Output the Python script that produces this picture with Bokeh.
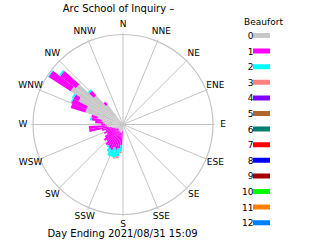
from bokeh.plotting import figure
from bokeh.models import Range1d, ColumnDataSource
from bokeh.embed import file_html
from bokeh.resources import INLINE
from bokeh.core.properties import value
import numpy as np

title_text = "Arc School of Inquiry \u2013"
footer_text = "Day Ending 2021/08/31 15:09"
legend_title = "Beaufort"
compass_labels = ["N", "NNE", "NE", "ENE", "E", "ESE", "SE", "SSE",
                  "S", "SSW", "SW", "WSW", "W", "WNW", "NW", "NNW"]
beaufort_labels = [str(i) for i in range(13)]
beaufort_colors = ["#c8c8c8", "#ff00ff", "#00ffff", "#ff8080", "#8000ff",
                   "#b06830", "#008070", "#ff0000", "#0000ff", "#a00000",
                   "#00ff00", "#ff8000", "#0080ff"]

# wind direction bins (degrees, clockwise from N) and frequency (%) per Beaufort
directions = [185, 190, 195, 200, 205, 210, 215, 220, 225, 230, 235, 240, 245, 250,
              255, 260, 265, 270, 275, 280, 285, 290, 295, 300, 305, 310, 315, 320]
bf0 = [0.7, 0.9, 0.9, 0.9, 0.9, 0.8, 0.8, 0.7, 0.7, 0.7, 0.8, 0.9, 1.0, 1.1,
       1.3, 1.6, 1.8, 2.0, 2.2, 2.4, 2.9, 4.4, 4.4, 5.6, 6.9, 6.6, 4.4, 2.8]
bf1 = [1.6, 1.8, 2.0, 1.8, 2.2, 2.2, 2.0, 2.2, 1.8, 2.0, 1.6, 1.1, 1.3, 0.9,
       1.1, 2.2, 2.0, 0.4, 0.9, 1.1, 0.7, 1.7, 1.8, 0.6, 2.9, 2.2, 0.7, 0.4]
bf2 = [0.7, 0.9, 0.9, 1.1, 0.7, 0.4, 0.2, 0.0, 0.0, 0.0, 0.0, 0.0, 0.0, 0.0,
       0.0, 0.0, 0.0, 0.0, 0.0, 0.2, 0.0, 0.0, 0.1, 0.2, 0.1, 0.2, 0.2, 0.0]
bf3 = [0.2, 0.2, 0.1, 0.0, 0.0, 0.0, 0.0, 0.0, 0.0, 0.0, 0.0, 0.0, 0.0, 0.0,
       0.0, 0.0, 0.0, 0.0, 0.0, 0.0, 0.0, 0.0, 0.0, 0.0, 0.0, 0.0, 0.0, 0.0]
max_pct = 10.0

W, H = 320, 240
CX, CY = 122.5, 124.0          # rose centre in pixels
S = 90.0 / max_pct             # pixels per percent
PETAL_W = 5.0                  # degrees

def dx(px):
    return (px - CX) / S

def dy(py):
    return (CY - py) / S

p = figure(width=W, height=H, output_backend="svg", toolbar_location=None,
           x_range=Range1d(dx(0), dx(W)), y_range=Range1d(dy(H), dy(0)),
           min_border=0, background_fill_color="white", border_fill_color="white")
p.axis.visible = False
p.grid.visible = False
p.outline_line_color = None

grid_col = "#c4c4c4"
# spokes
ang = np.deg2rad(90 - np.arange(16) * 22.5)
rr = max_pct * 1.02
p.segment(x0=[0] * 16, y0=[0] * 16, x1=list(rr * np.cos(ang)), y1=list(rr * np.sin(ang)),
          line_color=grid_col, line_width=1)
p.circle(x=[0], y=[0], radius=max_pct, fill_color=None, line_color=grid_col, line_width=1.2)

# petals
dirs = np.array(directions, dtype=float)
start = np.deg2rad(90 - dirs - PETAL_W / 2)
end = np.deg2rad(90 - dirs + PETAL_W / 2)
cum = np.zeros(len(dirs))
for lvl, vals in enumerate([bf0, bf1, bf2, bf3]):
    v = np.array(vals)
    mask = v > 0
    src = ColumnDataSource(dict(inner=cum[mask], outer=(cum + v)[mask],
                                start=start[mask], end=end[mask]))
    p.annular_wedge(x=0, y=0, inner_radius="inner", outer_radius="outer",
                    start_angle="start", end_angle="end", source=src,
                    fill_color=beaufort_colors[lvl], line_color=None)
    cum = cum + v

font = value("DejaVu Sans")
# compass labels
lr = 100.0 / S
la = np.deg2rad(90 - np.arange(16) * 22.5)
p.text(x=list(lr * np.cos(la)), y=list(lr * np.sin(la) + 0.1), text=compass_labels,
       text_font=font, text_font_size="9px", text_align="center",
       text_baseline="middle", text_color="black")

# title & footer
p.text(x=[dx(118)], y=[dy(8)], text=[title_text], text_font=font, text_font_size="10px",
       text_align="center", text_baseline="middle", text_color="black")
p.text(x=[dx(122)], y=[dy(233)], text=[footer_text], text_font=font, text_font_size="10px",
       text_align="center", text_baseline="middle", text_color="black")

# legend
p.text(x=[dx(263)], y=[dy(21)], text=[legend_title], text_font=font, text_font_size="9px",
       text_align="center", text_baseline="middle", text_color="black")
ly = [dy(35 + 15.6 * i) for i in range(13)]
p.rect(x=[dx(261)] * 13, y=ly, width=17 / S, height=5 / S,
       fill_color=beaufort_colors, line_color=None)
p.text(x=[dx(253)] * 13, y=ly, text=beaufort_labels, text_font=font, text_font_size="9px",
       text_align="right", text_baseline="middle", text_color="black")

open("out.html", "w").write(file_html(p, INLINE))
